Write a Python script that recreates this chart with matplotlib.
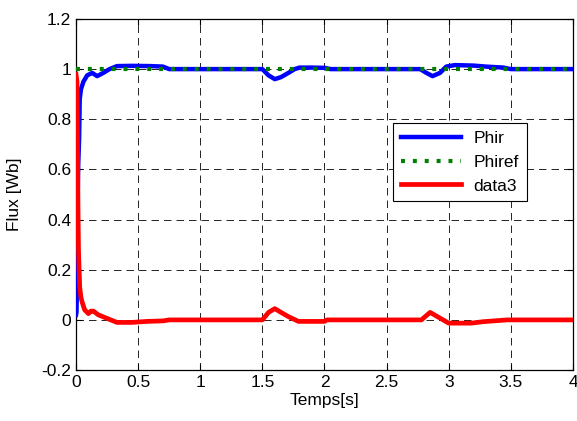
import numpy as np
import matplotlib

matplotlib.use('Agg')
import matplotlib.pyplot as plt

# values
t_phir = [0, 0.004, 0.008, 0.012, 0.018, 0.025, 0.03, 0.04, 0.06, 0.09, 0.13, 0.17,
          0.22, 0.27, 0.33, 0.45, 0.6, 0.7, 0.75, 1.0, 1.5, 1.55, 1.6, 1.65, 1.71,
          1.76, 1.8, 1.9, 2.0, 2.05, 2.5, 2.77, 2.82, 2.87, 2.93, 2.98, 3.05, 3.2,
          3.3, 3.44, 3.5, 4.0]
phir = [0.02, 0.03, 0.15, 0.45, 0.62, 0.72, 0.88, 0.92, 0.95, 0.975, 0.985, 0.972,
        0.985, 1.0, 1.012, 1.013, 1.012, 1.01, 1.0, 1.0, 1.0, 0.975, 0.96, 0.968, 0.985,
        1.0, 1.006, 1.006, 1.005, 1.0, 1.0, 1.0, 0.985, 0.972, 0.985, 1.01, 1.016, 1.014,
        1.01, 1.006, 1.0, 1.0]

t_phiref = [0, 4]
phiref = [1.0, 1.0]

t_data3 = [0, 0.008, 0.012, 0.016, 0.02, 0.025, 0.03, 0.04, 0.05, 0.07, 0.1, 0.12,
           0.14, 0.18, 0.22, 0.28, 0.33, 0.45, 0.57, 0.7, 0.75, 1.5, 1.55, 1.6, 1.65,
           1.71, 1.79, 2.0, 2.02, 2.78, 2.85, 2.92, 3.0, 3.18, 3.28, 3.47, 4.0]
data3 = [0.98, 0.95, 0.7, 0.45, 0.28, 0.2, 0.13, 0.09, 0.07, 0.04, 0.025, 0.035,
         0.035, 0.02, 0.012, 0.0, -0.01, -0.01, -0.006, -0.004, 0.0, 0.0, 0.03, 0.045,
         0.03, 0.013, -0.006, -0.006, 0.0, 0.0, 0.03, 0.01, -0.013, -0.013, -0.007,
         0.0, 0.0]

x_ticks = [0, 0.5, 1, 1.5, 2, 2.5, 3, 3.5, 4]
x_labels = ['0', '0.5', '1', '1.5', '2', '2.5', '3', '3.5', '4']
y_ticks = [-0.2, 0, 0.2, 0.4, 0.6, 0.8, 1, 1.2]
y_labels = ['-0.2', '0', '0.2', '0.4', '0.6', '0.8', '1', '1.2']

plt.rcParams['font.family'] = ['Liberation Sans', 'DejaVu Sans']

fig = plt.figure(figsize=(5.77, 4.21), dpi=100)
ax = fig.add_axes([0.1317, 0.121, 0.8613, 0.834])

ax.plot(t_phir, phir, color='#0000ff', lw=3.2, label='Phir', zorder=3)
ax.plot(t_phiref, phiref, color='#008000', lw=3.0, linestyle=(0, (0.95, 1.9)),
        label='Phiref', zorder=4)
ax.plot(t_data3, data3, color='#ff0000', lw=3.4, label='data3', zorder=5)

ax.set_xlim(0, 4)
ax.set_ylim(-0.2, 1.2)
ax.set_xticks(x_ticks)
ax.set_xticklabels(x_labels)
ax.set_yticks(y_ticks)
ax.set_yticklabels(y_labels)
ax.tick_params(direction='in', top=True, right=True, labelsize=12.5, length=4, width=0.8)
for s in ax.spines.values():
    s.set_linewidth(0.9)

ax.grid(True, color='black', lw=0.6, linestyle=(0, (9, 6)))
ax.set_axisbelow(True)

ax.set_xlabel('Temps[s]', fontsize=12.5, labelpad=2)
ax.set_ylabel('Flux [Wb]', fontsize=12.5, labelpad=14)

leg = ax.legend(loc='upper right', bbox_to_anchor=(0.907, 0.704), borderaxespad=0,
                fontsize=12.5, handlelength=3.5, handletextpad=0.7, frameon=True,
                fancybox=False, edgecolor='black', framealpha=1, labelspacing=0.5,
                borderpad=0.45)
leg.get_frame().set_linewidth(0.8)

fig.savefig('out.png', dpi=100)
